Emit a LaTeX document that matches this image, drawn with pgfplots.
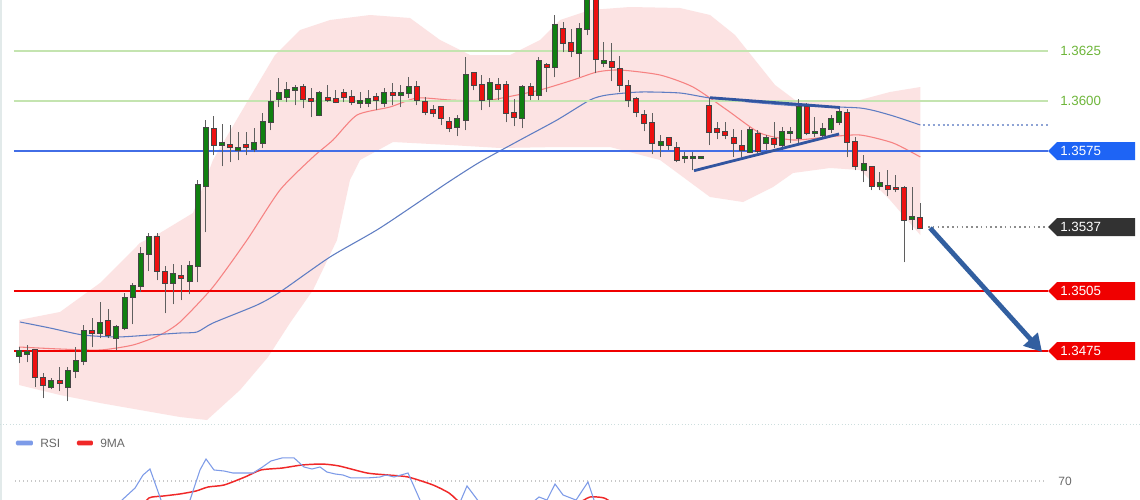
\documentclass[border=0pt]{standalone}
\usepackage{pgfplots}
\pgfplotsset{compat=1.18}
\usepackage{pgfplotstable}
\usetikzlibrary{arrows.meta}
\usepackage{fontspec}
\setmainfont{Liberation Sans}

\definecolor{cgreen}{RGB}{16,128,16}
\definecolor{cred}{RGB}{238,16,16}
\definecolor{cedge}{RGB}{70,70,70}
\definecolor{cwick}{RGB}{95,95,95}
\definecolor{band}{RGB}{252,227,227}
\definecolor{maRed}{RGB}{246,130,130}
\definecolor{maBlue}{RGB}{95,125,195}
\definecolor{lgreen}{RGB}{196,228,176}
\definecolor{tgreen}{RGB}{110,182,58}
\definecolor{lblue}{RGB}{66,110,230}
\definecolor{tagblue}{RGB}{30,100,245}
\definecolor{tagblack}{RGB}{50,50,50}
\definecolor{tagred}{RGB}{240,0,0}
\definecolor{arrowblue}{RGB}{50,95,160}
\definecolor{triblue}{RGB}{50,85,160}
\definecolor{rsiblue}{RGB}{125,155,232}
\definecolor{rsired}{RGB}{240,40,40}
\definecolor{txtgray}{RGB}{105,105,105}

\pgfplotstableread{
i o h l c
0 1.34725 1.34770 1.34690 1.34750
1 1.34735 1.34780 1.34695 1.34745
4 1.34570 1.34615 1.34560 1.34600
6 1.34570 1.34670 1.34500 1.34650
7 1.34650 1.34770 1.34615 1.34700
8 1.34700 1.34880 1.34680 1.34850
10 1.34840 1.34995 1.34815 1.34890
12 1.34815 1.34880 1.34755 1.34870
13 1.34865 1.35040 1.34855 1.35015
14 1.35020 1.35090 1.34885 1.35075
15 1.35075 1.35270 1.35045 1.35235
16 1.35235 1.35340 1.35150 1.35320
19 1.35090 1.35185 1.34985 1.35135
21 1.35100 1.35200 1.35035 1.35175
22 1.35175 1.35605 1.35095 1.35580
23 1.35575 1.35905 1.35345 1.35865
25 1.35780 1.35885 1.35675 1.35790
27 1.35755 1.35845 1.35705 1.35765
29 1.35760 1.35865 1.35745 1.35790
30 1.35790 1.35940 1.35765 1.35895
31 1.35895 1.36055 1.35855 1.35995
32 1.36010 1.36115 1.35970 1.36040
33 1.36020 1.36095 1.35995 1.36055
34 1.36055 1.36080 1.35980 1.36065
37 1.35930 1.36050 1.35925 1.36040
42 1.35990 1.36045 1.35965 1.36000
43 1.35990 1.36055 1.35970 1.36010
45 1.35990 1.36065 1.35970 1.36040
47 1.36030 1.36080 1.35970 1.36040
48 1.36040 1.36120 1.36015 1.36070
54 1.35870 1.35930 1.35825 1.35910
55 1.35905 1.36220 1.35855 1.36130
58 1.36010 1.36115 1.35970 1.36090
62 1.35915 1.36080 1.35865 1.36070
64 1.36030 1.36220 1.36005 1.36200
66 1.36170 1.36430 1.36120 1.36380
69 1.36240 1.36390 1.36120 1.36360
70 1.36360 1.36555 1.36330 1.36525
72 1.36190 1.36295 1.36170 1.36200
79 1.35780 1.35830 1.35720 1.35795
82 1.35715 1.35745 1.35690 1.35720
83 1.35715 1.35745 1.35655 1.35720
84 1.35715 1.35720 1.35715 1.35720
90 1.35745 1.35870 1.35740 1.35855
92 1.35790 1.35830 1.35755 1.35815
94 1.35780 1.35870 1.35755 1.35845
95 1.35840 1.35870 1.35790 1.35845
96 1.35815 1.36010 1.35790 1.35970
98 1.35840 1.35920 1.35820 1.35845
99 1.35830 1.35890 1.35820 1.35860
100 1.35860 1.35930 1.35840 1.35910
101 1.35895 1.35965 1.35880 1.35945
104 1.35655 1.35730 1.35595 1.35685
106 1.35575 1.35645 1.35555 1.35590
110 1.35410 1.35570 1.35355 1.35420
}\up

\pgfplotstableread{
i o h l c
2 1.34755 1.34755 1.34570 1.34620
3 1.34615 1.34640 1.34515 1.34580
5 1.34600 1.34670 1.34550 1.34590
9 1.34850 1.34915 1.34770 1.34840
11 1.34900 1.34960 1.34815 1.34830
17 1.35320 1.35340 1.35105 1.35150
18 1.35145 1.35175 1.34940 1.35090
20 1.35125 1.35180 1.35005 1.35115
24 1.35860 1.35925 1.35730 1.35780
26 1.35780 1.35880 1.35695 1.35770
28 1.35780 1.35845 1.35730 1.35770
35 1.36070 1.36085 1.35965 1.36010
36 1.36010 1.36065 1.35920 1.36000
38 1.36015 1.36080 1.35995 1.36005
39 1.36010 1.36055 1.35990 1.35995
40 1.36040 1.36060 1.35995 1.36020
41 1.36020 1.36055 1.35980 1.35995
44 1.36020 1.36040 1.35955 1.36005
46 1.36040 1.36090 1.35980 1.36030
49 1.36070 1.36100 1.35980 1.36005
50 1.35995 1.36020 1.35930 1.35945
51 1.35955 1.35980 1.35920 1.35940
52 1.35970 1.35970 1.35880 1.35915
53 1.35895 1.35920 1.35845 1.35865
56 1.36140 1.36145 1.36055 1.36080
57 1.36080 1.36130 1.35955 1.36005
59 1.36080 1.36115 1.36005 1.36060
60 1.36080 1.36100 1.35895 1.35940
61 1.35940 1.36010 1.35875 1.35920
63 1.36070 1.36090 1.36005 1.36030
65 1.36180 1.36190 1.36045 1.36170
67 1.36360 1.36395 1.36245 1.36290
68 1.36290 1.36360 1.36220 1.36250
71 1.36525 1.36555 1.36140 1.36210
73 1.36195 1.36290 1.36100 1.36170
74 1.36160 1.36225 1.36045 1.36080
75 1.36075 1.36105 1.35970 1.36005
76 1.36010 1.36020 1.35920 1.35945
77 1.35930 1.35955 1.35850 1.35890
78 1.35890 1.35940 1.35735 1.35790
80 1.35815 1.35820 1.35755 1.35780
81 1.35765 1.35795 1.35695 1.35705
85 1.35975 1.36015 1.35780 1.35845
86 1.35860 1.35895 1.35810 1.35845
87 1.35845 1.35895 1.35810 1.35830
88 1.35815 1.35860 1.35720 1.35790
89 1.35775 1.35855 1.35720 1.35755
91 1.35835 1.35855 1.35740 1.35750
93 1.35810 1.35895 1.35765 1.35785
97 1.35970 1.35990 1.35830 1.35840
102 1.35940 1.35960 1.35720 1.35795
103 1.35795 1.35820 1.35655 1.35675
105 1.35670 1.35675 1.35555 1.35575
107 1.35575 1.35655 1.35525 1.35560
108 1.35565 1.35630 1.35545 1.35560
109 1.35565 1.35575 1.35195 1.35405
111 1.35415 1.35490 1.35365 1.35365
}\down

\pgfplotsset{
  wickplot/.style={only marks, mark size=0pt, mark options={draw=none, fill=none}, forget plot,
    error bars/.cd, y dir=plus, y explicit, error mark=none,
    error bar style={line width=0.75pt, color=cwick}},
  bodyplot/.style 2 args={only marks, mark size=0pt, mark options={draw=none, fill=none}, forget plot,
    error bars/.cd, y dir=plus, y explicit, error mark=none,
    error bar style={line width=#1, color=#2}},
}

\begin{document}
\begin{tikzpicture}
\fill[white] (0,0) rectangle (855pt,-375pt);
\draw[color={rgb,255:red,226;green,234;blue,234}, line width=1.5pt] (0.75pt,0) -- (0.75pt,-375pt);

\begin{axis}[at={(0,0)}, anchor=north west, scale only axis,
  width=855pt, height=318.75pt,
  xmin=-2.34, xmax=138.05, ymin=1.3438, ymax=1.36505,
  hide axis, clip=true]

% envelope (upper band, then lower band back)
\addplot[fill=band, draw=none, forget plot] coordinates {
(0,1.34905) (5.05,1.34945) (9.98,1.35090) (14.9,1.35290) (17.36,1.35340)
(21.43,1.35440) (23.89,1.35705) (28.45,1.36020) (31.53,1.36230) (34.61,1.36355)
(38.3,1.36405) (43.23,1.36430) (48.15,1.36415) (51.85,1.36305) (55.54,1.36230)
(60.47,1.36230) (64.16,1.36305) (66.63,1.36405) (70.32,1.36455) (75.25,1.36470)
(81.4,1.36465) (85.1,1.36430) (88.18,1.36330) (90.64,1.36205) (93.1,1.36080)
(95.57,1.36005) (99.88,1.35995) (103.57,1.36005) (107.27,1.36045) (111,1.36070)
(111,1.35330) (107.27,1.35505) (103.57,1.35655) (99.88,1.35665) (95.32,1.35640)
(92.86,1.35570) (89.16,1.35495) (85.1,1.35520) (78.94,1.35705) (72.78,1.35770)
(66.63,1.35770) (59.24,1.35765) (53.08,1.35780) (46.06,1.35795) (42,1.35705)
(40.76,1.35605) (39.16,1.35305) (36.21,1.35055) (33.37,1.34890) (30.67,1.34720)
(27.22,1.34555) (23.15,1.34405) (19.83,1.34420) (14.9,1.34455) (9.98,1.34490)
(5.05,1.34530) (0,1.34580)} -- cycle;

% moving averages
\addplot[maRed, line width=0.8pt, smooth, tension=0.4, forget plot] coordinates {
(0,1.34770) (5.05,1.34760) (9.98,1.34755) (14.04,1.34780) (17.36,1.34830)
(19.83,1.34895) (23.89,1.35070) (28.08,1.35305) (32.14,1.35555) (36.21,1.35720)
(38.67,1.35805) (41.63,1.35930) (45.69,1.35970) (49.01,1.36015) (53.08,1.36005)
(57.14,1.36000) (60.1,1.36020) (64.16,1.36055) (68.23,1.36105) (71.18,1.36145)
(74.01,1.36155) (78.94,1.36130) (83,1.36070) (87.19,1.35955) (91.26,1.35840)
(95.32,1.35805) (99.51,1.35820) (103.57,1.35830) (107.64,1.35790) (111,1.35720)};
\addplot[maBlue, line width=0.8pt, smooth, tension=0.4, forget plot] coordinates {
(0.12,1.34895) (3.82,1.34865) (7.88,1.34830) (12.07,1.34820) (16.13,1.34830)
(19.83,1.34840) (21.92,1.34845) (23.89,1.34890) (29.31,1.34980) (32.14,1.35045)
(38.3,1.35220) (44.46,1.35365) (52.71,1.35590) (56.77,1.35695) (61.7,1.35805)
(66.26,1.35905) (70.32,1.36005) (72.41,1.36030) (76.48,1.36045) (81.4,1.36040)
(85.1,1.36015) (91.26,1.35990) (96.18,1.35975) (103.57,1.35965) (107.27,1.35930)
(111,1.35880)};
\addplot[maBlue!70, line width=0.9pt, dash pattern=on 1.5pt off 2.2pt, forget plot]
  coordinates {(111.3,1.35880) (126.72,1.35880)};

% horizontal levels
\addplot[lgreen, line width=1.4pt, forget plot] coordinates {(-0.62,1.3625) (126.72,1.3625)};
\addplot[lgreen, line width=1.4pt, forget plot] coordinates {(-0.62,1.3600) (126.72,1.3600)};
\addplot[lblue, line width=1.1pt, forget plot] coordinates {(-0.62,1.3575) (126.72,1.3575)};
\addplot[tagred, line width=2.1pt, forget plot] coordinates {(-0.62,1.3505) (126.72,1.3505)};
\addplot[tagred, line width=2.1pt, forget plot] coordinates {(-0.62,1.3475) (126.72,1.3475)};
\addplot[black!45, line width=0.9pt, dash pattern=on 1.2pt off 2.4pt, forget plot]
  coordinates {(111.95,1.3537) (126.72,1.3537)};

% candles: wicks
\addplot[wickplot] table[x=i, y=l, y error expr=\thisrow{h}-\thisrow{l}] {\up};
\addplot[wickplot] table[x=i, y=l, y error expr=\thisrow{h}-\thisrow{l}] {\down};
% candles: bodies (outline then fill)
\addplot[bodyplot={4.5pt}{cedge}] table[x=i,
  y expr={min(\thisrow{o},\thisrow{c})-0.00003},
  y error expr={max(abs(\thisrow{o}-\thisrow{c}),0.00008)+0.00006}] {\up};
\addplot[bodyplot={4.5pt}{cedge}] table[x=i,
  y expr={min(\thisrow{o},\thisrow{c})-0.00003},
  y error expr={max(abs(\thisrow{o}-\thisrow{c}),0.00008)+0.00006}] {\down};
\addplot[bodyplot={3pt}{cgreen}] table[x=i,
  y expr={min(\thisrow{o},\thisrow{c})+0.00002},
  y error expr={max(abs(\thisrow{o}-\thisrow{c})-0.00004,0.00004)}] {\up};
\addplot[bodyplot={3pt}{cred}] table[x=i,
  y expr={min(\thisrow{o},\thisrow{c})+0.00002},
  y error expr={max(abs(\thisrow{o}-\thisrow{c})-0.00004,0.00004)}] {\down};

% triangle pattern
\addplot[triblue, line width=2.1pt, forget plot] coordinates {(85.1,1.360165) (101.1,1.359675)};
\addplot[triblue, line width=2.1pt, forget plot] coordinates {(83.13,1.356515) (100.99,1.35835)};

% projected move
\addplot[arrowblue, line width=3.6pt, -{Triangle[length=13pt,width=14pt]}, forget plot]
  coordinates {(112.2,1.35365) (125.99,1.34745)};

% price tags
\fill[tagblue] (axis cs:126.72,1.3575) -- (axis cs:127.83,1.35795) -- (axis cs:137.44,1.35795)
  -- (axis cs:137.44,1.35705) -- (axis cs:127.83,1.35705) -- cycle;
\fill[tagblack] (axis cs:126.72,1.3537) -- (axis cs:127.83,1.35415) -- (axis cs:137.44,1.35415)
  -- (axis cs:137.44,1.35325) -- (axis cs:127.83,1.35325) -- cycle;
\fill[tagred] (axis cs:126.72,1.3505) -- (axis cs:127.83,1.35095) -- (axis cs:137.44,1.35095)
  -- (axis cs:137.44,1.35005) -- (axis cs:127.83,1.35005) -- cycle;
\fill[tagred] (axis cs:126.72,1.3475) -- (axis cs:127.83,1.34795) -- (axis cs:137.44,1.34795)
  -- (axis cs:137.44,1.34705) -- (axis cs:127.83,1.34705) -- cycle;

\node[anchor=west, inner sep=0pt, text=tgreen, font={\fontsize{10}{12}\selectfont}] at (axis cs:128.2,1.3625) {1.3625};
\node[anchor=west, inner sep=0pt, text=tgreen, font={\fontsize{10}{12}\selectfont}] at (axis cs:128.2,1.3600) {1.3600};
\node[anchor=west, inner sep=0pt, text=white, font={\fontsize{10}{12}\selectfont}] at (axis cs:128.2,1.3575) {1.3575};
\node[anchor=west, inner sep=0pt, text=white, font={\fontsize{10}{12}\selectfont}] at (axis cs:128.2,1.3537) {1.3537};
\node[anchor=west, inner sep=0pt, text=white, font={\fontsize{10}{12}\selectfont}] at (axis cs:128.2,1.3505) {1.3505};
\node[anchor=west, inner sep=0pt, text=white, font={\fontsize{10}{12}\selectfont}] at (axis cs:128.2,1.3475) {1.3475};
\end{axis}

\draw[color={rgb,255:red,205;green,222;blue,222}, line width=0.6pt, dash pattern=on 0.8pt off 1.6pt] (0,-318pt) -- (855pt,-318pt);

\begin{axis}[at={(0,-318.75pt)}, anchor=north west, scale only axis,
  width=855pt, height=56.25pt,
  xmin=-2.34, xmax=138.05, ymin=58.125, ymax=105,
  hide axis, clip=true]
\addplot[color={rgb,255:red,200;green,200;blue,200}, line width=0.8pt, dash pattern=on 0.75pt off 2.25pt, forget plot]
  coordinates {(-0.49,70) (126.5,70)};
\addplot[rsired, line width=1.1pt, smooth, tension=0.4, forget plot] coordinates {
(14.9,51.9) (16.01,59.4) (17.73,60.6) (19.83,61.9) (21.8,63.75) (23.28,66.25)
(25.25,67.5) (27.83,72.5) (29.8,76.9) (32.39,78.1) (34.85,80) (37.32,80.6)
(39.41,79.4) (42.86,75) (45.44,73.75) (47.91,72.5) (50.99,67.5) (52.96,62.5)
(53.94,58.1) (56.77,45.6) (61.7,39.4) (69.09,56.9) (70.32,60) (72.04,59.4)
(73.4,55) (76,45)};
\addplot[rsiblue, line width=0.8pt, forget plot] coordinates {
(11.82,48.75) (12.68,58.1) (14.29,65.6) (15.27,73.75) (16.13,77.5) (17.49,58.1)
(19.21,45.6) (21.06,58.1) (22.29,76.9) (23.03,83.75) (24.01,76.9) (25.25,76.25)
(26.35,75) (28.82,75) (29.8,78.1) (31.03,82.5) (32.39,84.4) (33.87,84.4)
(35.1,78.75) (36.08,77.5) (37.07,78.75) (37.93,75.6) (38.92,74.4) (39.9,73.75)
(40.89,71.9) (42.86,71.9) (44.46,72.5) (45.2,73.75) (46.18,72.5) (47.91,75)
(49.38,58.1) (51.85,39.4) (54.43,58.1) (55.17,66.9) (56.28,59.4) (59.24,39.4)
(64.04,60) (65.02,58.1) (66.01,68.1) (67,61.25) (68.6,58.1) (70.07,69.4)
(70.81,58.1) (74.01,33.1)};
\fill[rsiblue, rounded corners=1pt] (axis cs:-0.37,92.2) rectangle (axis cs:1.72,95.3);
\fill[rsired, rounded corners=1pt] (axis cs:7.14,92.2) rectangle (axis cs:9.11,95.3);
\node[anchor=west, inner sep=0pt, text=txtgray, font={\fontsize{9}{11}\selectfont}] at (axis cs:2.59,93.75) {RSI};
\node[anchor=west, inner sep=0pt, text=txtgray, font={\fontsize{9}{11}\selectfont}] at (axis cs:9.98,93.75) {9MA};
\node[anchor=west, inner sep=0pt, text=txtgray, font={\fontsize{9}{11}\selectfont}] at (axis cs:127.96,70) {70};
\end{axis}
\pgfresetboundingbox
\path[use as bounding box] (0,0) rectangle (855pt,-375pt);
\end{tikzpicture}
\end{document}
